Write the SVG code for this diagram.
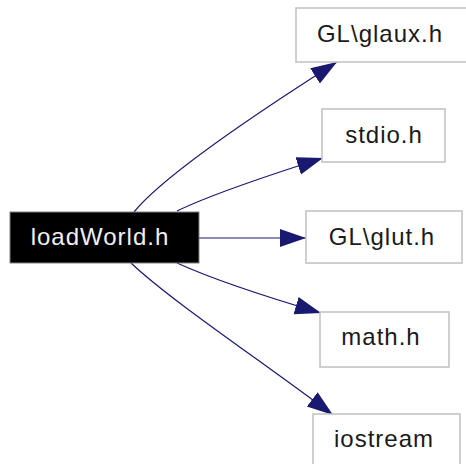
<svg xmlns="http://www.w3.org/2000/svg" width="466" height="464" viewBox="0 0 466 464">
<style>
.box{fill:#ffffff;stroke:#c0c0c0;stroke-width:1.5}
.lbl{font-family:"Liberation Sans",Arial,sans-serif;font-size:24px;letter-spacing:1px;text-anchor:middle;fill:#1a1a1a}
.edge{fill:none;stroke:#191970;stroke-width:1.2;marker-end:url(#ah)}
</style>
<defs>
<marker id="ah" markerUnits="userSpaceOnUse" markerWidth="28" markerHeight="20" refX="26" refY="9" orient="auto">
<path d="M0,0 L26,9 L0,18 z" fill="#191970"/>
</marker>
</defs>
<rect width="466" height="464" fill="#ffffff"/>
<g id="edges">
<path class="edge" d="M134,212 C160,180 230,130 337,62"/>
<path class="edge" d="M177,211 C210,195 260,178 323,158"/>
<path class="edge" d="M199,238 L306,238"/>
<path class="edge" d="M177,263 C210,278 260,295 321,313"/>
<path class="edge" d="M131,263 C170,300 260,360 333,415"/>
</g>
<g id="loadWorld">
<rect x="10" y="212" width="189" height="51" fill="#000000" stroke="#808080" stroke-width="1"/>
<text class="lbl" x="100" y="245" style="fill:#f0f0f0">loadWorld.h</text>
</g>
<g id="glaux">
<rect class="box" x="296" y="8" width="175" height="54"/>
<text class="lbl" x="380" y="42">GL\glaux.h</text>
</g>
<g id="stdio">
<rect class="box" x="322" y="109" width="123" height="53"/>
<text class="lbl" x="384" y="143">stdio.h</text>
</g>
<g id="glut">
<rect class="box" x="306" y="211" width="156" height="52"/>
<text class="lbl" x="382" y="245">GL\glut.h</text>
</g>
<g id="math">
<rect class="box" x="320" y="312" width="129" height="55"/>
<text class="lbl" x="381" y="345">math.h</text>
</g>
<g id="iostream">
<rect class="box" x="313" y="414" width="147" height="55"/>
<text class="lbl" x="384" y="447">iostream</text>
</g>
</svg>
